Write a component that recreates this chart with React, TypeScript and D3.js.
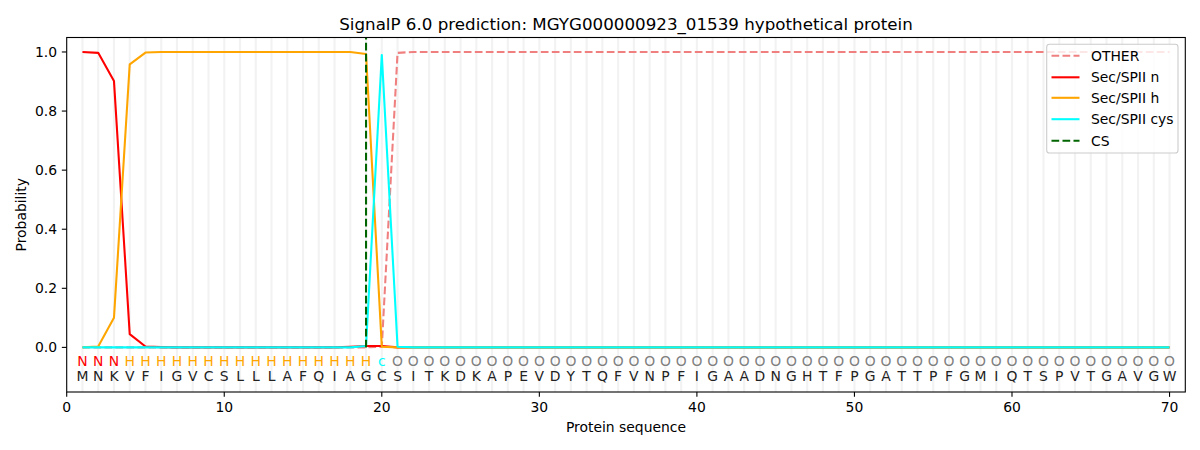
import React from "react";
import * as d3 from "d3";

const sequence = "MNKVFIGVCSLLLAFQIAGCSITKDKAPEVDYTQFVNPFIGAADNGHTFPGATTPFGMIQTSPVTGAVGW".split("");
const regionLabels = [
  "N","N","N",
  "H","H","H","H","H","H","H","H","H","H","H","H","H","H","H","H",
  "c",
  ...Array(50).fill("O"),
];
const otherProb = [
  0,0,0,0,0,0,0,0,0,0,0,0,0,0,0,0,0,0,0,0.002,
  0.997,1,1,1,1,1,1,1,1,1,1,1,1,1,1,1,1,1,1,1,1,1,1,1,1,1,1,1,1,1,
  1,1,1,1,1,1,1,1,1,1,1,1,1,1,1,1,1,1,1,1,
];
const nProb = [
  1.0,0.997,0.902,0.045,0.003,0.001,0,0,0,0,0,0,0,0,0,0,0,0.002,0.005,0.005,
  0,0,0,0,0,0,0,0,0,0,0,0,0,0,0,0,0,0,0,0,0,0,0,0,0,0,0,0,0,0,
  0,0,0,0,0,0,0,0,0,0,0,0,0,0,0,0,0,0,0,0,
];
const hProb = [
  0,0.003,0.10,0.958,0.998,1,1,1,1,1,1,1,1,1,1,1,1,1,0.993,0.002,
  0,0,0,0,0,0,0,0,0,0,0,0,0,0,0,0,0,0,0,0,0,0,0,0,0,0,0,0,0,0,
  0,0,0,0,0,0,0,0,0,0,0,0,0,0,0,0,0,0,0,0,
];
const cysProb = [
  0,0,0,0,0,0,0,0,0,0,0,0,0,0,0,0,0,0,0.005,0.99,
  0.002,0,0,0,0,0,0,0,0,0,0,0,0,0,0,0,0,0,0,0,0,0,0,0,0,0,0,0,0,0,
  0,0,0,0,0,0,0,0,0,0,0,0,0,0,0,0,0,0,0,0,
];
const csPosition = 19;
const xTicks = [0, 10, 20, 30, 40, 50, 60, 70];
const yTicks = [0, 0.2, 0.4, 0.6, 0.8, 1.0];
const labelColors: Record<string, string> = { N: "red", H: "orange", c: "cyan", O: "grey" };

const DASH = "7.7,3.3";
const series = [
  { name: "OTHER", values: otherProb, color: "lightcoral", dash: DASH },
  { name: "Sec/SPII n", values: nProb, color: "red", dash: "" },
  { name: "Sec/SPII h", values: hProb, color: "orange", dash: "" },
  { name: "Sec/SPII cys", values: cysProb, color: "cyan", dash: "" },
];

const FONT = "DejaVu Sans, sans-serif";
const FS = 13.9;
const LW = 2.08;

export default function App() {
  const left = 66.7, right = 1185.3, top = 37.5, bottom = 392;
  const x = d3.scaleLinear().domain([0, 71]).range([left, right]);
  const y = d3.scaleLinear().domain([-0.151, 1.049]).range([bottom, top]);
  const positions = sequence.map((_, i) => i + 1);
  const line = d3
    .line<number>()
    .x((_, i) => x(i + 1))
    .y((d) => y(d));

  const legendItems = [
    ...series.map((s) => ({ name: s.name, color: s.color, dash: s.dash })),
    { name: "CS", color: "darkgreen", dash: DASH },
  ];
  const legendY = [55.7, 77.3, 97.8, 119.2, 140.7];

  return (
    <div style={{ position: "absolute", left: 0, top: 0 }}>
      <svg width={1200} height={450} style={{ display: "block", background: "white" }} fontFamily={FONT}>
        <rect x={0} y={0} width={1200} height={450} fill="white" />
        {positions.map((p) => (
          <line key={"g" + p} x1={x(p)} x2={x(p)} y1={top} y2={bottom} stroke="#808080" strokeOpacity={0.1} strokeWidth={2.1} />
        ))}
        {series.map((s) => (
          <path
            key={s.name}
            d={line(s.values) || ""}
            fill="none"
            stroke={s.color}
            strokeWidth={LW}
            strokeDasharray={s.dash || undefined}
            strokeLinejoin="round"
          />
        ))}
        <line x1={x(csPosition)} x2={x(csPosition)} y1={y(0)} y2={top} stroke="darkgreen" strokeWidth={LW} strokeDasharray={DASH} />
        {regionLabels.map((l, i) => (
          <text key={"r" + i} x={x(i + 1)} y={366} textAnchor="middle" fontSize={FS} fill={labelColors[l]}>
            {l}
          </text>
        ))}
        {sequence.map((l, i) => (
          <text key={"s" + i} x={x(i + 1)} y={381} textAnchor="middle" fontSize={FS} fill="#222">
            {l}
          </text>
        ))}
        <rect x={left} y={top} width={right - left} height={bottom - top} fill="none" stroke="black" strokeWidth={1.1} />
        {xTicks.map((t) => (
          <g key={"xt" + t}>
            <line x1={x(t)} x2={x(t)} y1={bottom} y2={bottom + 4.86} stroke="black" strokeWidth={1.1} />
            <text x={x(t)} y={411.7} textAnchor="middle" fontSize={FS} fill="black">
              {t}
            </text>
          </g>
        ))}
        {yTicks.map((t) => (
          <g key={"yt" + t}>
            <line x1={left - 4.86} x2={left} y1={y(t)} y2={y(t)} stroke="black" strokeWidth={1.1} />
            <text x={57} y={y(t)} dy="0.36em" textAnchor="end" fontSize={FS} fill="black">
              {t.toFixed(1)}
            </text>
          </g>
        ))}
        <text x={(left + right) / 2} y={29.5} textAnchor="middle" fontSize={16.7} fill="black">
          SignalP 6.0 prediction: MGYG000000923_01539 hypothetical protein
        </text>
        <text x={(left + right) / 2} y={432} textAnchor="middle" fontSize={FS} fill="black">
          Protein sequence
        </text>
        <text transform={`translate(26,${(top + bottom) / 2}) rotate(-90)`} textAnchor="middle" fontSize={FS} fill="black">
          Probability
        </text>
        <rect x={1046.7} y={44.3} width={131.3} height={108.7} rx={2.8} fill="white" fillOpacity={0.8} stroke="#cccccc" strokeWidth={1.1} />
        {legendItems.map((it, i) => (
          <g key={"lg" + i}>
            <line x1={1051.5} x2={1079.5} y1={legendY[i]} y2={legendY[i]} stroke={it.color} strokeWidth={LW} strokeDasharray={it.dash || undefined} />
            <text x={1091} y={legendY[i]} dy="0.36em" fontSize={FS} fill="black">
              {it.name}
            </text>
          </g>
        ))}
      </svg>
    </div>
  );
}
